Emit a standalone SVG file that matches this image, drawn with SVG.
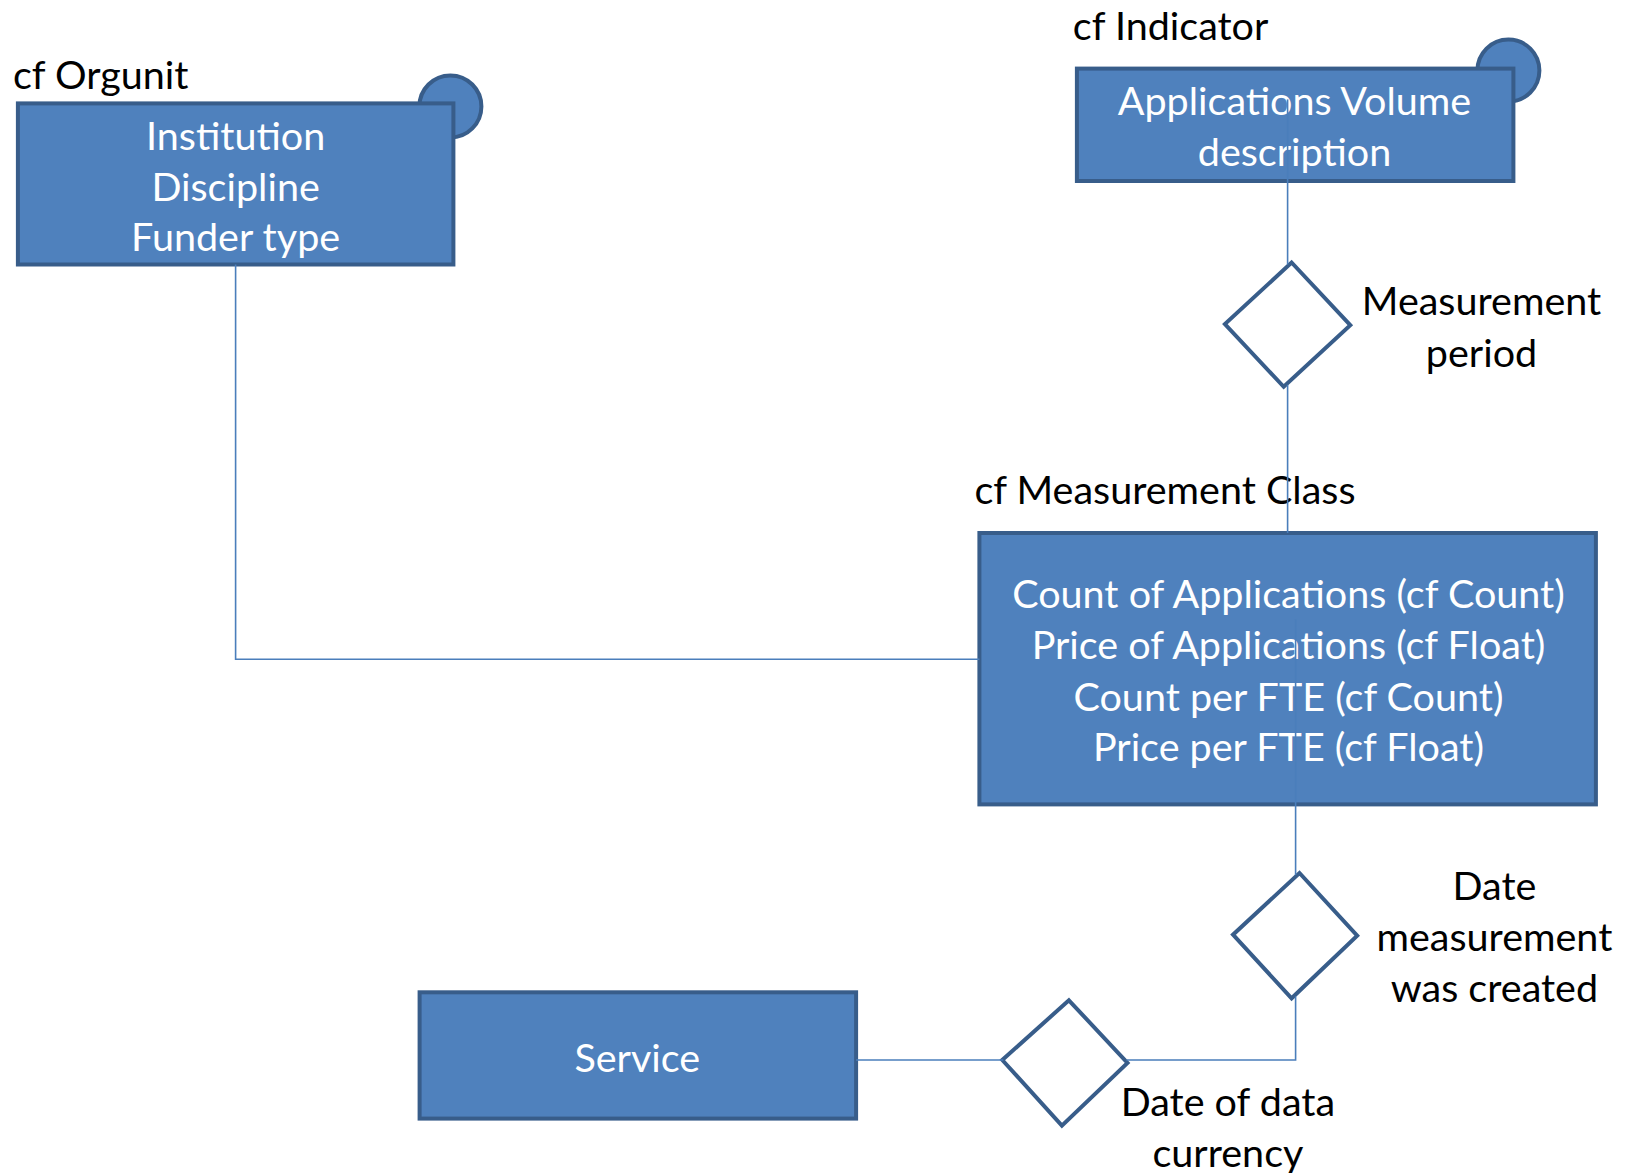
<svg xmlns="http://www.w3.org/2000/svg" width="1635" height="1173" viewBox="0 0 1635 1173">
<style>
.box{fill:#4F81BD;stroke:#385D8A;stroke-width:4}
.dot{fill:#4F81BD;stroke:#385D8A;stroke-width:4}
.dia{fill:#FFFFFF;stroke:#385D8A;stroke-width:4;stroke-linejoin:miter}
.con{fill:none;stroke:#4A7EBB;stroke-width:1.6}
text{font-family:Lato,"Open Sans","Liberation Sans",sans-serif;font-size:39.5px}
.w{fill:#FFFFFF;text-anchor:middle}
.k{fill:#000000}
.kc{fill:#000000;text-anchor:middle}
</style>
<rect width="1635" height="1173" fill="#FFFFFF"/>
<g id="orgunit">
<text class="k" x="13" y="89">cf Orgunit</text>
<circle class="dot" cx="450.4" cy="106.4" r="31"/>
<rect class="box" x="17.9" y="103.4" width="435.5" height="161.1"/>
<text class="w" x="235.6" y="150">Institution</text>
<text class="w" x="235.6" y="200.7">Discipline</text>
<text class="w" x="235.6" y="251.4">Funder type</text>
</g>
<g id="indicator">
<text class="k" x="1072.8" y="40.3">cf Indicator</text>
<circle class="dot" cx="1508.4" cy="70.6" r="31"/>
<rect class="box" x="1076.9" y="68.6" width="436.5" height="112.4"/>
<text class="w" x="1294.5" y="115">Applications Volume</text>
<text class="w" x="1294.5" y="165.7">description</text>
</g>
<g id="measurement-period">
<polygon class="dia" points="1291.6,262.5 1350.3,325.1 1283.7,386.8 1224.9,324.1"/>
<text class="kc" x="1481.5" y="315">Measurement</text>
<text class="kc" x="1481.5" y="366.7">period</text>
</g>
<g id="measurement-class">
<text class="k" x="974.4" y="504">cf Measurement Class</text>
<rect class="box" x="979.4" y="533" width="616.5" height="271.4"/>
<text class="w" x="1288.5" y="608.3">Count of Applications (cf Count)</text>
<text class="w" x="1288.5" y="659">Price of Applications (cf Float)</text>
<text class="w" x="1288.5" y="710.7">Count per FTE (cf Count)</text>
<text class="w" x="1288.5" y="761.4">Price per FTE (cf Float)</text>
</g>
<g id="date-created">
<polygon class="dia" points="1299.5,873 1357.2,935.7 1291.6,998.3 1233,934.7"/>
<text class="kc" x="1494.4" y="899.7">Date</text>
<text class="kc" x="1494.4" y="951.4">measurement</text>
<text class="kc" x="1494.4" y="1002.1">was created</text>
</g>
<g id="date-currency">
<polygon class="dia" points="1068.9,1000.3 1127.5,1062.9 1061.9,1125.6 1002.3,1060"/>
<text class="kc" x="1227.9" y="1116.4">Date of data</text>
<text class="kc" x="1227.9" y="1167">currency</text>
</g>
<g id="service">
<rect class="box" x="419.6" y="992.3" width="436.5" height="126.3"/>
<text class="w" x="637.3" y="1071.5">Service</text>
</g>
<g id="connectors">
<polyline class="con" points="235.6,264.5 235.6,659.2 979.4,659.2"/>
<line class="con" x1="1287.6" y1="99.4" x2="1287.6" y2="264.5"/>
<line class="con" x1="1287.6" y1="384.8" x2="1287.6" y2="533"/>
<line class="con" x1="1295.6" y1="619.4" x2="1295.6" y2="875"/>
<polyline class="con" points="1295.6,996.6 1295.6,1060 1126.5,1060"/>
<line class="con" x1="1003.3" y1="1060" x2="856.1" y2="1060"/>
</g>
</svg>
